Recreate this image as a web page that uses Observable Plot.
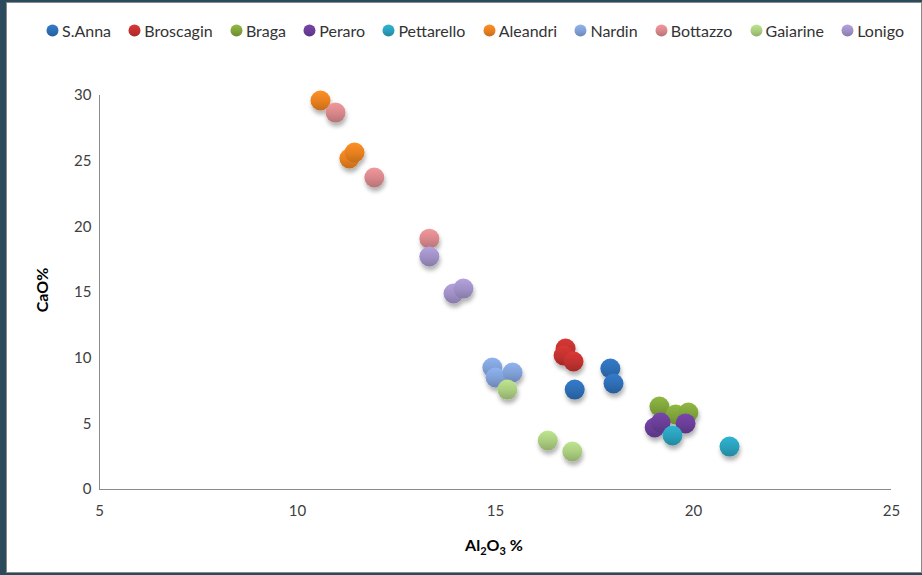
<!DOCTYPE html>
<html>
<head>
<meta charset="utf-8">
<script src="https://cdn.jsdelivr.net/npm/d3@7"></script>
<script src="https://cdn.jsdelivr.net/npm/@observablehq/plot@0.6"></script>
<style>
html, body { margin: 0; padding: 0; }
body { width: 922px; height: 575px; background: #2b4a5c; position: relative; overflow: hidden; font-family: Lato, "Open Sans", sans-serif; }
#frame { position: absolute; left: 6px; top: 2px; width: 914px; height: 569px; background: #fff; border: 1px solid #8a8a8a; }
#legend { position: absolute; left: 46px; top: 21px; width: 858px; display: flex; justify-content: space-between; align-items: center; font-size: 16px; color: #333; white-space: nowrap; }
#legend .item { display: flex; align-items: center; }
#legend svg { margin-right: 3px; }
#chart { position: absolute; left: 0; top: 62px; }
#defs { position: absolute; width: 0; height: 0; }
</style>
</head>
<body>
<svg id="defs" width="0" height="0"></svg>
<div id="frame"></div>
<div id="legend"></div>
<div id="chart"></div>
<script>
// ---- data ----
const series = ["S.Anna", "Broscagin", "Braga", "Peraro", "Pettarello", "Aleandri", "Nardin", "Bottazzo", "Gaiarine", "Lonigo"];
const colors = ["#2e6db4", "#c0312f", "#7fa33b", "#6a3e97", "#2a9fba", "#e67f1f", "#7f9fd5", "#d6868a", "#a9cb7e", "#9f8fc4"];

const sAnnaAl = [17.00, 17.90, 17.98];
const sAnnaCa = [7.61, 9.21, 8.07];
const broscaginAl = [16.77, 16.72, 16.97];
const broscaginCa = [10.74, 10.20, 9.75];
const bragaAl = [19.14, 19.55, 19.87];
const bragaCa = [6.32, 5.71, 5.86];
const peraroAl = [19.02, 19.17, 19.80];
const peraroCa = [4.72, 5.10, 5.03];
const pettarelloAl = [19.47, 20.91];
const pettarelloCa = [4.11, 3.27];
const aleandriAl = [10.58, 11.31, 11.44];
const aleandriCa = [29.62, 25.20, 25.66];
const nardinAl = [14.92, 15.00, 15.43];
const nardinCa = [9.29, 8.53, 8.91];
const bottazzoAl = [10.96, 11.94, 13.33];
const bottazzoCa = [28.70, 23.76, 19.10];
const gaiarineAl = [15.30, 16.32, 16.94];
const gaiarineCa = [7.61, 3.73, 2.89];
const lonigoAl = [13.33, 13.94, 14.19];
const lonigoCa = [17.74, 14.92, 15.30];

const xTicks = [5, 10, 15, 20, 25];
const yTicks = [0, 5, 10, 15, 20, 25, 30];

const seriesAl = [sAnnaAl, broscaginAl, bragaAl, peraroAl, pettarelloAl, aleandriAl, nardinAl, bottazzoAl, gaiarineAl, lonigoAl];
const seriesCa = [sAnnaCa, broscaginCa, bragaCa, peraroCa, pettarelloCa, aleandriCa, nardinCa, bottazzoCa, gaiarineCa, lonigoCa];

const data = series.flatMap((s, i) => seriesAl[i].map((al, j) => ({series: s, al, ca: seriesCa[i][j]})));

// ---- gradient & shadow defs ----
const defs = d3.select("#defs").append("defs");
colors.forEach((c, i) => {
  const g = defs.append("linearGradient").attr("id", "g" + i).attr("x1", 0).attr("y1", 0).attr("x2", 0).attr("y2", 1);
  g.append("stop").attr("offset", "0%").attr("stop-color", d3.color(c).brighter(0.35).formatHex());
  g.append("stop").attr("offset", "55%").attr("stop-color", c);
  g.append("stop").attr("offset", "100%").attr("stop-color", d3.color(c).darker(0.45).formatHex());
});
const f = defs.append("filter").attr("id", "shadow").attr("x", "-20%").attr("y", "-20%").attr("width", "140%").attr("height", "140%");
f.append("feDropShadow").attr("dx", 1).attr("dy", 4).attr("stdDeviation", 2).attr("flood-color", "#000").attr("flood-opacity", 0.3);

// ---- legend ----
const legend = d3.select("#legend");
series.forEach((s, i) => {
  const it = legend.append("div").attr("class", "item");
  const sv = it.append("svg").attr("width", 13).attr("height", 13);
  sv.append("circle").attr("cx", 6.5).attr("cy", 6.5).attr("r", 6).attr("fill", `url(#g${i})`);
  it.append("span").text(s);
});

// ---- chart ----
const chart = Plot.plot({
  width: 922,
  height: 513,
  marginLeft: 99,
  marginRight: 31,
  marginTop: 33,
  marginBottom: 86,
  style: {background: "transparent", fontFamily: "Lato, 'Open Sans', sans-serif", fontSize: "15px", color: "#404040", overflow: "visible"},
  x: {domain: [5, 25], ticks: xTicks, tickSize: 0, tickPadding: 16, label: null},
  y: {domain: [0, 30], ticks: yTicks, tickSize: 0, tickPadding: 8, label: null},
  color: {type: "ordinal", domain: series, range: colors.map((c, i) => `url(#g${i})`)},
  marks: [
    Plot.ruleY([0], {stroke: "#8c8c8c", strokeWidth: 1}),
    Plot.ruleX([5], {stroke: "#8c8c8c", strokeWidth: 1}),
    Plot.dot(data, {x: "al", y: "ca", r: 10, fill: "series"})
  ]
});
document.getElementById("chart").appendChild(chart);

const svg = d3.select(chart);
svg.selectAll('g[aria-label="dot"]').attr("filter", "url(#shadow)");

// axis titles
svg.append("text")
  .attr("transform", "translate(44,228) rotate(-90)")
  .attr("text-anchor", "middle")
  .attr("dominant-baseline", "middle")
  .attr("font-weight", "bold")
  .attr("font-size", 16)
  .attr("fill", "#000")
  .text("CaO%");

const xt = svg.append("text")
  .attr("x", 494)
  .attr("y", 489)
  .attr("text-anchor", "middle")
  .attr("font-weight", "bold")
  .attr("font-size", 16)
  .attr("fill", "#000");
xt.append("tspan").text("Al");
xt.append("tspan").attr("font-size", 11).attr("dy", 4).text("2");
xt.append("tspan").attr("dy", -4).text("O");
xt.append("tspan").attr("font-size", 11).attr("dy", 4).text("3");
xt.append("tspan").attr("dy", -4).text(" %");
</script>
</body>
</html>
